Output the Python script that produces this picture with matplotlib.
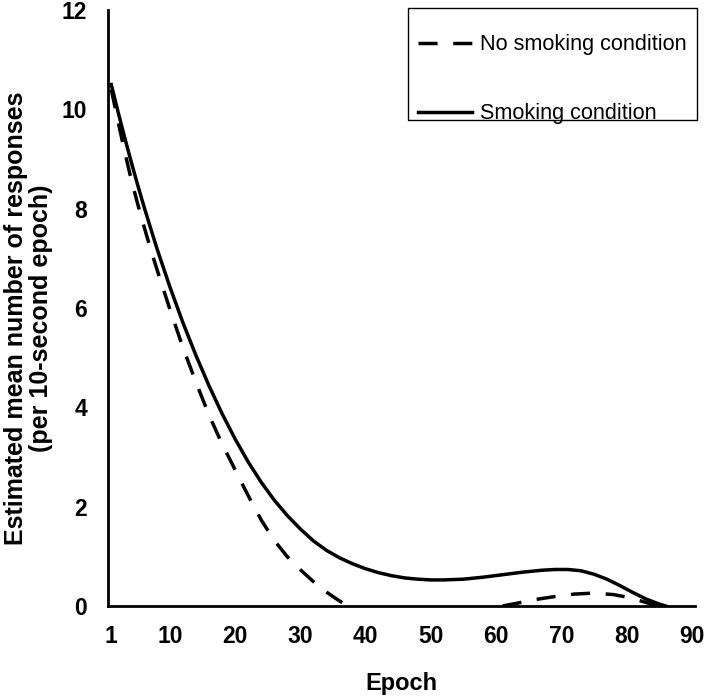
import numpy as np
import matplotlib
matplotlib.use("Agg")
import matplotlib.pyplot as plt
from matplotlib.patches import Rectangle

plt.rcParams['font.family'] = ['Liberation Sans', 'DejaVu Sans']

# values
smoke_epoch = [1, 2, 3, 4, 5, 6, 7, 8, 10, 12, 14, 16, 18, 20, 22, 24, 26, 28, 30,
               32, 34, 36, 38, 40, 42, 44, 46, 48, 50, 52, 55, 58, 61, 64, 67, 69,
               71, 73, 75, 77, 79, 81, 83, 85, 86]
smoke_resp = [10.5, 9.97, 9.46, 8.97, 8.5, 8.05, 7.62, 7.2, 6.42, 5.7, 5.04, 4.43,
              3.87, 3.36, 2.9, 2.49, 2.13, 1.82, 1.55, 1.31, 1.12, 0.97, 0.85, 0.75,
              0.67, 0.61, 0.565, 0.54, 0.525, 0.525, 0.54, 0.58, 0.63, 0.68, 0.72,
              0.735, 0.735, 0.71, 0.64, 0.54, 0.41, 0.27, 0.14, 0.04, 0.0]

# the no-smoking curve sits at zero (hidden under the axis) between ~38 and ~61
nosmoke_epoch = [1, 2, 3, 4, 5, 6, 7, 8, 10, 12, 14, 16, 18, 20, 22, 24, 26, 28, 30,
                 32, 34, 36, 37, 38, 50, 61, 63, 66, 69, 72, 75, 78, 80, 82, 84, 85]
nosmoke_resp = [10.4, 9.78, 9.18, 8.62, 8.12, 7.65, 7.2, 6.78, 5.97, 5.2, 4.5, 3.84,
                3.26, 2.74, 2.22, 1.73, 1.32, 0.99, 0.73, 0.49, 0.28, 0.1, 0.03, 0.0,
                np.nan, 0.0, 0.05, 0.13, 0.19, 0.24, 0.26, 0.23, 0.18, 0.11, 0.03, 0.0]

xticks = [1, 10, 20, 30, 40, 50, 60, 70, 80, 90]
yticks = [0, 2, 4, 6, 8, 10, 12]

fig = plt.figure(figsize=(7.05, 6.96), dpi=100)
ax = fig.add_axes([108 / 705, 90 / 696, 587 / 705, 596 / 696])

ax.plot(nosmoke_epoch, nosmoke_resp, color='black', lw=2.5,
        dashes=(5.5, 4.5), label='No smoking condition')
ax.plot(smoke_epoch, smoke_resp, color='black', lw=2.5, label='Smoking condition')

ax.set_xlim(0.5, 90.5)
ax.set_ylim(0, 12)
ax.set_xticks(xticks)
ax.set_yticks(yticks)
ax.tick_params(length=0, labelsize=16.5)
ax.tick_params(axis='x', pad=14)
ax.tick_params(axis='y', pad=15)
for lab in ax.get_xticklabels() + ax.get_yticklabels():
    lab.set_fontweight('bold')

for side in ['top', 'right']:
    ax.spines[side].set_visible(False)
for side in ['left', 'bottom']:
    ax.spines[side].set_linewidth(2.0)
    ax.spines[side].set_zorder(3)

ax.set_xlabel('Epoch', fontsize=17, fontweight='bold')
ax.xaxis.set_label_coords(0.5, -0.111)
ax.set_ylabel('Estimated mean number of responses\n(per 10-second epoch)',
              fontsize=18, fontweight='bold', linespacing=1.08)
ax.yaxis.set_label_coords(-0.093, 0.483)

leg = ax.legend(loc='upper left', bbox_to_anchor=(0.528, 0.959), frameon=False,
                fontsize=15.6, handlelength=2.5, handletextpad=0.37,
                labelspacing=2.2, borderpad=0, borderaxespad=0)

# legend frame (Excel style, tight at bottom)
ax.add_patch(Rectangle((0.511, 0.815), 0.492, 0.188, transform=ax.transAxes,
                       fill=False, edgecolor='black', lw=1.0, clip_on=False))

fig.savefig('out.png', dpi=100)
